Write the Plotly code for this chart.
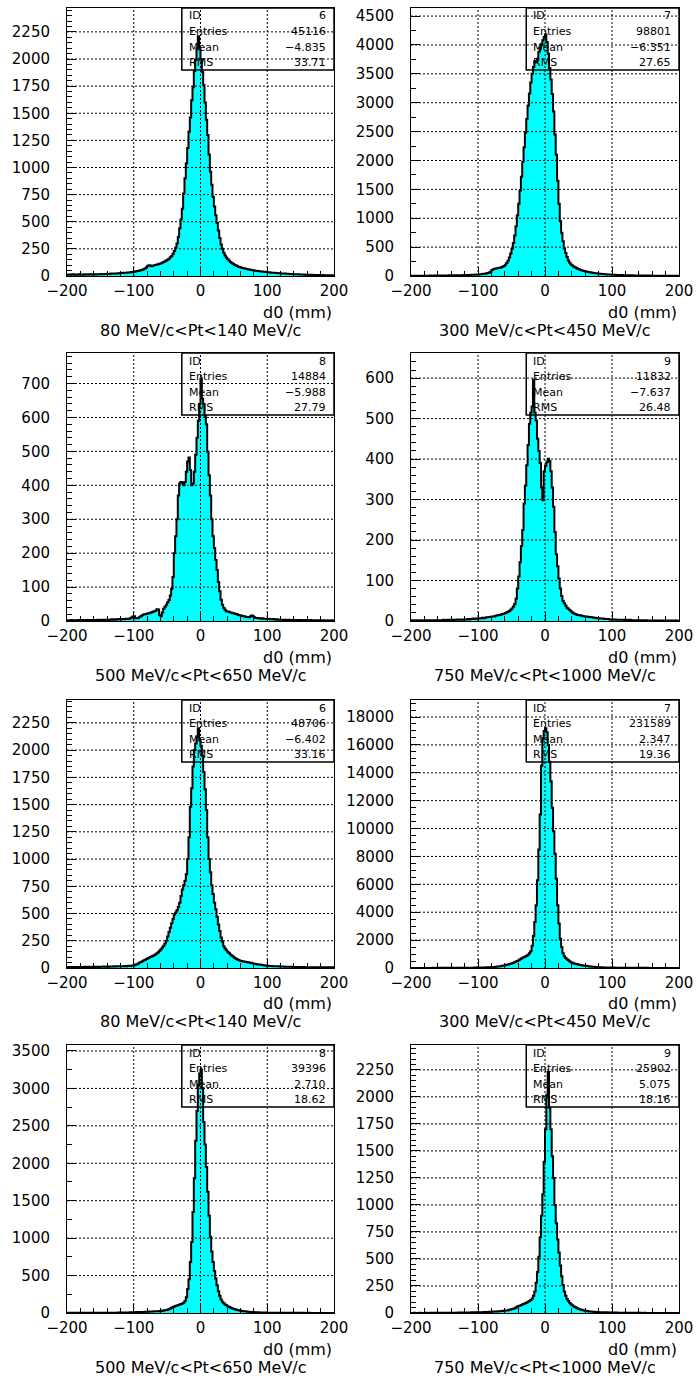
import numpy as np
import plotly.graph_objects as go

# ---------------- data ----------------
bin_edges = np.linspace(-200, 200, 201)   # 200 bins of 2 mm

p1_counts = [
    12, 14, 11, 13, 15, 12, 14, 13, 12, 15,
    13, 14, 12, 15, 13, 14, 16, 13, 15, 14,
    15, 16, 14, 17, 15, 18, 16, 17, 19, 18,
    20, 19, 21, 22, 20, 23, 24, 22, 25, 26,
    27, 28, 30, 29, 31, 33, 32, 35, 36, 38,
    40, 42, 45, 47, 50, 54, 58, 62, 70, 78,
    92, 100, 96, 90, 95, 98, 102, 105, 108, 112,
    118, 122, 128, 135, 142, 150, 160, 172, 185, 205,
    230, 260, 300, 360, 440, 520, 620, 760, 900, 1040,
    1180, 1330, 1460, 1620, 1740, 1890, 1990, 2100, 2210, 2090,
    2000, 1880, 1760, 1600, 1440, 1300, 1120, 960, 840, 730,
    640, 560, 490, 420, 350, 290, 250, 215, 190, 170,
    155, 142, 130, 120, 112, 104, 98, 92, 86, 82,
    78, 74, 72, 68, 65, 62, 60, 57, 55, 53,
    50, 48, 47, 45, 44, 42, 41, 40, 38, 37,
    35, 34, 33, 31, 30, 29, 28, 27, 26, 25,
    24, 23, 22, 22, 21, 20, 19, 19, 18, 17,
    17, 16, 15, 15, 14, 14, 13, 13, 12, 12,
    11, 11, 10, 11, 10, 9, 10, 9, 9, 8,
    8, 9, 8, 7, 8, 7, 7, 8, 6, 7,
]

p2_counts = [
    4, 5, 3, 4, 5, 4, 6, 5, 4, 5,
    5, 6, 5, 6, 7, 5, 6, 7, 6, 7,
    7, 8, 7, 9, 8, 9, 10, 9, 11, 10,
    11, 12, 11, 13, 12, 14, 13, 15, 14, 16,
    16, 17, 18, 19, 18, 20, 21, 22, 24, 25,
    27, 29, 31, 34, 37, 41, 46, 52, 60, 75,
    105, 118, 124, 128, 133, 138, 145, 152, 162, 175,
    195, 225, 265, 320, 390, 470, 570, 700, 860, 1050,
    1250, 1480, 1720, 1980, 2230, 2480, 2720, 2950, 3160, 3350,
    3500, 3620, 3720, 3700, 3760, 3880, 3950, 4000, 4080, 4140,
    4180, 4050, 3850, 3600, 3400, 3150, 2850, 2450, 2100, 1650,
    1250, 950, 750, 600, 480, 400, 330, 270, 230, 200,
    180, 165, 150, 138, 126, 116, 106, 98, 92, 86,
    80, 75, 70, 65, 60, 56, 52, 49, 46, 43,
    40, 38, 35, 33, 31, 29, 28, 26, 25, 24,
    22, 21, 20, 19, 18, 17, 16, 16, 15, 14,
    13, 13, 12, 12, 11, 11, 10, 10, 9, 9,
    9, 8, 8, 8, 7, 7, 7, 6, 7, 6,
    6, 5, 6, 5, 5, 6, 5, 4, 5, 5,
    4, 5, 4, 4, 3, 4, 4, 3, 4, 3,
]

p3_counts = [
    2, 1, 2, 3, 2, 1, 2, 2, 3, 2,
    2, 3, 2, 2, 3, 2, 3, 3, 2, 3,
    3, 2, 3, 4, 3, 3, 4, 3, 4, 4,
    4, 3, 4, 5, 4, 5, 4, 5, 5, 6,
    5, 6, 5, 6, 7, 6, 7, 8, 10, 13,
    14, 9, 8, 9, 12, 15, 17, 19, 20, 21,
    22, 23, 24, 26, 27, 29, 30, 35, 34, 18,
    14, 25, 36, 42, 48, 55, 62, 75, 95, 130,
    200, 250, 300, 370, 405, 410, 408, 400, 410, 440,
    470, 482, 445, 400, 405, 440, 490, 540, 590, 640,
    715, 655, 640, 605, 580, 500, 430, 370, 300, 250,
    215, 180, 150, 115, 88, 63, 48, 38, 33, 29,
    28, 27, 25, 24, 23, 22, 21, 20, 18, 17,
    16, 15, 14, 13, 12, 12, 11, 13, 16, 14,
    11, 9, 9, 8, 8, 7, 8, 7, 7, 6,
    6, 6, 5, 5, 6, 5, 4, 5, 4, 4,
    4, 4, 3, 4, 3, 3, 4, 3, 3, 3,
    3, 2, 3, 3, 2, 3, 2, 2, 3, 2,
    2, 2, 3, 2, 2, 1, 2, 2, 2, 1,
    2, 1, 2, 1, 1, 2, 1, 1, 2, 1,
]

p4_counts = [
    1, 2, 1, 1, 2, 1, 1, 2, 1, 1,
    1, 2, 1, 2, 1, 2, 2, 1, 2, 2,
    2, 1, 2, 2, 3, 2, 2, 3, 2, 3,
    3, 2, 3, 3, 4, 3, 3, 4, 3, 4,
    4, 4, 5, 4, 5, 5, 6, 5, 6, 6,
    6, 7, 7, 8, 7, 8, 9, 9, 10, 10,
    11, 11, 12, 13, 14, 14, 15, 16, 17, 18,
    20, 21, 23, 25, 28, 31, 36, 42, 55, 80,
    110, 145, 185, 225, 290, 335, 385, 435, 487, 515,
    530, 596, 515, 495, 450, 420, 390, 330, 298, 370,
    383, 392, 401, 395, 370, 330, 282, 220, 165, 135,
    105, 80, 62, 50, 44, 38, 33, 30, 27, 24,
    21, 19, 17, 16, 15, 14, 14, 13, 12, 12,
    11, 11, 10, 10, 9, 9, 8, 8, 7, 7,
    7, 6, 6, 6, 5, 5, 5, 5, 4, 4,
    4, 4, 4, 3, 3, 3, 3, 3, 3, 2,
    3, 2, 2, 3, 2, 2, 2, 2, 2, 1,
    2, 1, 2, 1, 1, 2, 1, 1, 1, 1,
    1, 1, 1, 1, 0, 1, 1, 1, 0, 1,
    1, 0, 1, 1, 0, 1, 0, 1, 1, 0,
]

p5_counts = [
    9, 8, 10, 9, 8, 10, 9, 8, 9, 10,
    9, 10, 8, 11, 9, 10, 11, 10, 9, 11,
    10, 11, 12, 10, 11, 12, 11, 13, 12, 12,
    13, 12, 14, 13, 14, 15, 14, 15, 16, 15,
    16, 17, 16, 18, 17, 19, 20, 19, 21, 23,
    26, 30, 35, 42, 50, 56, 62, 68, 74, 82,
    88, 95, 100, 106, 112, 118, 126, 135, 145, 158,
    172, 188, 205, 225, 250, 290, 330, 370, 410, 450,
    490, 510, 530, 560, 600, 660, 720, 760, 800, 860,
    1000, 1200, 1480, 1650, 1850, 2000, 2060, 2120, 2200, 2090,
    2040, 1950, 1800, 1640, 1450, 1200, 1000, 880, 760, 680,
    600, 540, 470, 400, 340, 280, 240, 200, 178, 162,
    150, 138, 125, 115, 105, 95, 88, 80, 74, 68,
    65, 62, 60, 58, 55, 52, 50, 48, 45, 42,
    40, 37, 35, 33, 31, 29, 27, 25, 23, 21,
    20, 19, 18, 18, 17, 16, 16, 15, 15, 14,
    14, 13, 13, 12, 12, 12, 11, 11, 11, 10,
    10, 10, 9, 10, 9, 9, 8, 9, 8, 8,
    8, 8, 7, 8, 7, 7, 8, 7, 7, 6,
    7, 6, 7, 6, 6, 7, 6, 5, 6, 6,
]

p6_counts = [
    5, 6, 5, 7, 6, 5, 6, 7, 6, 7,
    7, 6, 8, 7, 8, 7, 9, 8, 8, 9,
    9, 10, 9, 11, 10, 11, 12, 11, 12, 13,
    13, 14, 15, 14, 16, 17, 16, 18, 19, 20,
    20, 21, 22, 23, 24, 25, 26, 27, 28, 30,
    32, 34, 36, 38, 41, 44, 47, 51, 55, 60,
    65, 72, 80, 90, 100, 115, 130, 145, 165, 185,
    205, 225, 250, 280, 310, 345, 380, 420, 460, 500,
    560, 620, 680, 730, 780, 830, 880, 950, 1050, 1200,
    1600, 2300, 3300, 4500, 6300, 8500, 11000, 14500, 16500, 17000,
    17200, 16900, 16000, 14800, 13400, 11500, 9800, 8200, 6400, 4500,
    3200, 2100, 1500, 1050, 850, 720, 620, 550, 480, 420,
    380, 340, 310, 285, 260, 240, 220, 200, 185, 170,
    155, 140, 128, 115, 105, 95, 85, 76, 68, 61,
    56, 51, 47, 44, 41, 38, 36, 34, 32, 30,
    28, 27, 25, 24, 23, 22, 21, 20, 19, 18,
    17, 16, 16, 15, 14, 14, 13, 13, 12, 12,
    11, 11, 10, 10, 10, 9, 9, 8, 8, 8,
    7, 7, 7, 6, 7, 6, 6, 5, 6, 5,
    5, 5, 4, 5, 4, 4, 5, 4, 4, 4,
]

p7_counts = [
    2, 1, 2, 2, 1, 2, 2, 1, 2, 2,
    2, 2, 1, 2, 2, 3, 2, 2, 3, 2,
    3, 2, 3, 3, 2, 3, 3, 4, 3, 3,
    4, 3, 4, 4, 5, 4, 5, 5, 6, 5,
    6, 6, 7, 7, 8, 7, 8, 9, 9, 10,
    10, 11, 12, 12, 13, 14, 14, 15, 16, 17,
    18, 18, 19, 20, 21, 22, 23, 24, 25, 26,
    28, 30, 33, 36, 40, 45, 52, 60, 70, 80,
    88, 95, 100, 108, 114, 120, 128, 138, 160, 210,
    320, 450, 680, 950, 1350, 1800, 2300, 2700, 3050, 3200,
    3250, 3000, 2550, 2250, 1950, 1620, 1300, 1020, 820, 680,
    560, 460, 370, 290, 230, 180, 150, 130, 115, 102,
    90, 80, 72, 65, 58, 52, 46, 41, 37, 33,
    30, 27, 25, 22, 20, 18, 16, 15, 13, 12,
    11, 10, 9, 9, 8, 7, 7, 6, 6, 6,
    5, 5, 5, 4, 4, 4, 4, 3, 3, 3,
    3, 3, 3, 2, 3, 2, 2, 2, 2, 2,
    2, 2, 2, 1, 2, 2, 1, 2, 1, 1,
    1, 2, 1, 1, 1, 1, 1, 1, 1, 1,
    1, 1, 1, 0, 1, 1, 1, 0, 1, 1,
]

p8_counts = [
    1, 1, 2, 1, 1, 1, 2, 1, 1, 1,
    1, 2, 1, 1, 2, 1, 2, 2, 1, 2,
    2, 1, 2, 2, 2, 3, 2, 2, 3, 2,
    3, 3, 2, 3, 3, 4, 3, 4, 4, 4,
    4, 5, 4, 5, 5, 6, 5, 6, 6, 7,
    7, 7, 8, 8, 9, 9, 10, 10, 11, 12,
    12, 13, 14, 14, 15, 16, 17, 18, 19, 20,
    22, 24, 26, 29, 32, 36, 40, 45, 52, 60,
    65, 70, 75, 80, 85, 90, 98, 105, 112, 120,
    135, 160, 200, 280, 380, 520, 700, 900, 1100, 1400,
    1700, 2020, 2230, 1900, 1700, 1450, 1250, 1000, 830, 680,
    560, 440, 340, 260, 200, 160, 130, 110, 95, 82,
    72, 63, 55, 48, 42, 37, 33, 29, 26, 23,
    21, 19, 17, 15, 14, 12, 11, 10, 10, 9,
    8, 8, 7, 7, 6, 6, 6, 5, 5, 5,
    4, 4, 4, 4, 3, 3, 3, 3, 3, 2,
    3, 2, 2, 2, 2, 2, 2, 1, 2, 2,
    1, 2, 1, 1, 2, 1, 1, 1, 1, 1,
    1, 1, 1, 1, 1, 0, 1, 1, 1, 0,
    1, 0, 1, 1, 0, 1, 0, 1, 0, 1,
]

panel_counts = [p1_counts, p2_counts, p3_counts, p4_counts,
                p5_counts, p6_counts, p7_counts, p8_counts]

hist_ids = [6, 7, 8, 9, 6, 7, 8, 9]
entries = [45116, 98801, 14884, 11832, 48706, 231589, 39396, 25902]
means = ["\u22124.835", "\u22126.351", "\u22125.988", "\u22127.637",
         "\u22126.402", "2.347", "2.710", "5.075"]
rms_vals = ["33.71", "27.65", "27.79", "26.48", "33.16", "19.36", "18.62", "18.16"]
pt_titles = ["80 MeV/c<Pt<140 MeV/c", "300 MeV/c<Pt<450 MeV/c",
             "500 MeV/c<Pt<650 MeV/c", "750 MeV/c<Pt<1000 MeV/c"] * 2
x_title = "d0 (mm)"
x_tickvals = [-200, -100, 0, 100, 200]

# ---------------- style ----------------
W, H = 696, 1378
col_px = [(67, 334), (411, 679)]
row_px = [(8, 276), (353, 621), (700, 968), (1045, 1313)]
y_max = [2470, 4640, 790, 662, 2460, 19220, 3580, 2480]
y_major = [250, 500, 100, 100, 250, 2000, 500, 250]
y_minor = [50, 250, 20, 20, 50, 500, 250, 50]
FONT = "DejaVu Sans"
CYAN = "#00FFFF"

fig = go.Figure()
layout = dict(
    template="none",
    width=W, height=H, margin=dict(l=0, r=0, t=0, b=0, autoexpand=False),
    paper_bgcolor="white", plot_bgcolor="white", showlegend=False,
    font=dict(family=FONT, color="black"),
)
shapes, annotations = [], []

for i in range(8):
    r, c = divmod(i, 2)
    sfx = "" if i == 0 else str(i + 1)
    xa, ya = "x" + sfx, "y" + sfx
    counts = np.asarray(panel_counts[i], dtype=float)
    assert counts.size == bin_edges.size - 1, (i, counts.size)
    ys = np.append(counts, counts[-1])
    fig.add_trace(go.Scatter(
        x=bin_edges, y=ys, mode="lines",
        line=dict(shape="hv", color="black", width=2),
        fill="tozeroy", fillcolor=CYAN,
        xaxis=xa, yaxis=ya, hoverinfo="skip", showlegend=False,
    ))

    x0, x1 = col_px[c]
    top, bot = row_px[r]
    axis_common = dict(
        ticks="inside", ticklen=9, tickwidth=1, tickcolor="black",
        showline=True, mirror=True, linecolor="black", linewidth=1,
        showgrid=False, zeroline=False, layer="above traces",
        tickfont=dict(family=FONT, size=15, color="black"),
        fixedrange=True, automargin=False,
    )
    layout["xaxis" + sfx] = dict(
        axis_common, domain=[x0 / W, x1 / W], range=[-200, 200], anchor=ya,
        tickmode="array", tickvals=x_tickvals, ticklabelstandoff=1,
        minor=dict(ticks="inside", ticklen=5, tickcolor="black",
                   tickmode="linear", tick0=0, dtick=20, showgrid=False),
    )
    layout["yaxis" + sfx] = dict(
        axis_common, domain=[1 - bot / H, 1 - top / H], range=[0, y_max[i]],
        anchor=xa, tickmode="linear", tick0=0, dtick=y_major[i],
        tickformat="d", ticklabelstandoff=13,
        minor=dict(ticks="inside", ticklen=5, tickcolor="black",
                   tickmode="linear", tick0=0, dtick=y_minor[i], showgrid=False),
    )

    grid = dict(color="black", width=1, dash="2px,2px")
    for gx in x_tickvals[1:-1]:
        shapes.append(dict(type="line", xref=xa, yref=ya + " domain",
                           x0=gx, x1=gx, y0=0, y1=1, line=grid, layer="above"))
    gy = y_major[i]
    while gy <= y_max[i]:
        shapes.append(dict(type="line", xref=xa + " domain", yref=ya,
                           x0=0, x1=1, y0=gy, y1=gy, line=grid, layer="above"))
        gy += y_major[i]

    # statistics box
    ph = bot - top
    box_h = 62
    shapes.append(dict(type="rect", xref=xa + " domain", yref=ya + " domain",
                       x0=0.43, x1=1, y0=1 - box_h / ph, y1=1,
                       line=dict(color="black", width=1.5), layer="above"))
    labels = ["ID", "Entries", "Mean", "RMS"]
    values = [str(hist_ids[i]), str(entries[i]), means[i], rms_vals[i]]
    for k, (lab, val) in enumerate(zip(labels, values)):
        yshift = -(8 + k * 15.6)
        annotations.append(dict(xref=xa + " domain", yref=ya + " domain",
                                x=0.43, y=1, xanchor="left", yanchor="middle",
                                xshift=5, yshift=yshift, showarrow=False, text=lab,
                                font=dict(family=FONT, size=11, color="black")))
        annotations.append(dict(xref=xa + " domain", yref=ya + " domain",
                                x=1, y=1, xanchor="right", yanchor="middle",
                                xshift=-6, yshift=yshift, showarrow=False, text=val,
                                font=dict(family=FONT, size=11, color="black")))

    annotations.append(dict(xref=xa + " domain", yref=ya + " domain",
                            x=1, y=0, xanchor="right", yanchor="middle",
                            yshift=-36, showarrow=False, text=x_title,
                            font=dict(family=FONT, size=16, color="black")))
    annotations.append(dict(xref=xa + " domain", yref=ya + " domain",
                            x=0.5, y=0, xanchor="center", yanchor="middle",
                            yshift=-54, showarrow=False, text=pt_titles[i],
                            font=dict(family=FONT, size=16, color="black")))

layout["shapes"] = shapes
layout["annotations"] = annotations
fig.update_layout(**layout)
fig.write_html(
    "out.html",
    config={"displayModeBar": False},
    post_script="document.body.style.margin='0px';document.body.style.padding='0px';",
)
